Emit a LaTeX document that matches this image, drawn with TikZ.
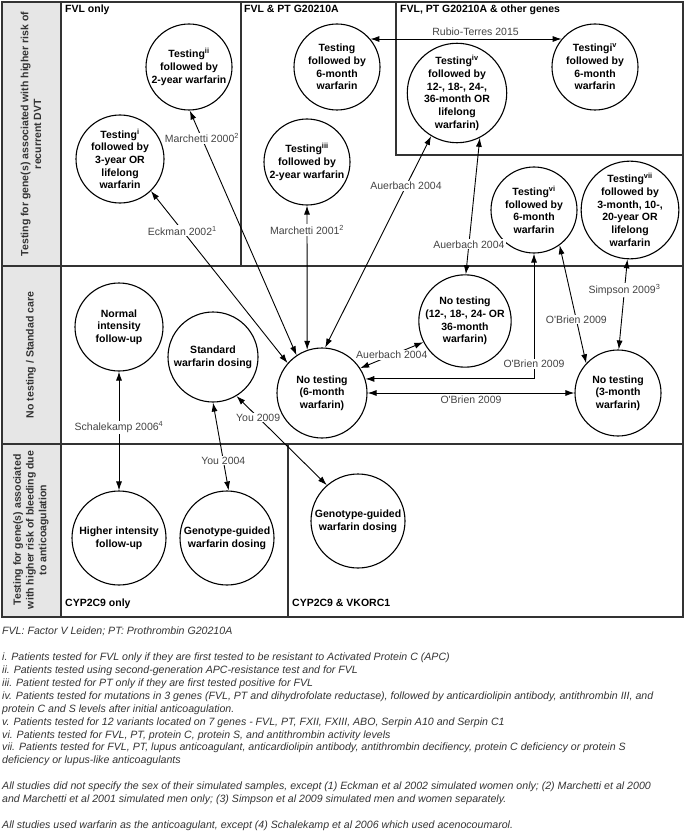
\documentclass[tikz,border=0pt]{standalone}
\usepackage{fontspec}
\setmainfont{Liberation Sans}
\usetikzlibrary{arrows.meta}
\definecolor{linegray}{HTML}{333333}
\definecolor{sidegray}{HTML}{E6E6E6}
\definecolor{labelgray}{HTML}{444444}

\begin{document}
\begin{tikzpicture}[x=1pt, y=-1pt,
    strategy/.style={circle, draw, line width=1.1pt, inner sep=0pt, minimum size=#1, align=center,
      font=\fontsize{10.5}{12.7}\selectfont\bfseries},
    strategy/.default=86pt,
    study/.style={font=\fontsize{10.5}{12.7}\selectfont, text=labelgray, inner sep=1pt},
    onlink/.style={study, fill=white},
    link/.style={line width=0.9pt, {Latex[length=9pt,width=6pt]}-{Latex[length=9pt,width=6pt]}},
    panel/.style={font=\fontsize{10.5}{12.7}\selectfont\bfseries, inner sep=0pt, anchor=base west},
    side/.style={font=\fontsize{10.5}{12.7}\selectfont\bfseries, text=linegray, rotate=90, align=center},
    frame/.style={line width=1.3pt, draw=linegray},
    notes/.style={font=\fontsize{10.6}{12.9}\selectfont\itshape, text=linegray, inner sep=0pt, align=left, anchor=north west}]
  \useasboundingbox (0,0) rectangle (685,837);

  \filldraw[frame, fill=sidegray] (2,2) rectangle (61,617);
  \draw[frame] (2,2) rectangle (683,617);
  \draw[frame] (2,266) -- (683,266);
  \draw[frame] (2,444) -- (683,444);
  \draw[frame] (241,2) -- (241,266);
  \draw[frame] (396,2) -- (396,155) -- (683,155);
  \draw[frame] (288,444) -- (288,617);

  \node[side] (rowtest) at (31,134) {Testing for gene(s) associated with higher risk of\\recurrent DVT};
  \node[side] (rowcare) at (31,355) {No testing / Standad care};
  \node[side] (rowbleed) at (31,530) {Testing for gene(s) associated\\with higher risk of bleeding due\\to anticoagulation};

  \node[panel] (fvl) at (65,13) {FVL only};
  \node[panel] (fvlpt) at (244,13) {FVL \& PT G20210A};
  \node[panel] (other) at (400,13) {FVL, PT G20210A \& other genes};
  \node[panel] (cyp) at (65,606) {CYP2C9 only};
  \node[panel] (vkorc) at (292,606) {CYP2C9 \& VKORC1};

  \node[strategy=88pt] (tA) at (120,159) {Testing\textsuperscript{i}\\followed by\\3-year OR\\lifelong\\warfarin};
  \node[strategy] (tB) at (189,67) {Testing\textsuperscript{ii}\\followed by\\2-year warfarin};
  \node[strategy] (tC) at (337,67) {Testing\\followed by\\6-month\\warfarin};
  \node[strategy] (tD) at (307,162) {Testing\textsuperscript{iii}\\followed by\\2-year warfarin};
  \node[strategy=94pt] (tE) at (457,93) {Testing\textsuperscript{iv}\\followed by\\12-, 18-, 24-,\\36-month OR\\lifelong\\warfarin)};
  \node[strategy] (tF) at (595,67) {Testingi\textsuperscript{v}\\followed by\\6-month\\warfarin};
  \node[strategy] (tG) at (534,210) {Testing\textsuperscript{vi}\\followed by\\6-month\\warfarin};
  \node[strategy] (tH) at (630,210) {Testing\textsuperscript{vii}\\followed by\\3-month, 10-,\\20-year OR\\lifelong\\warfarin};

  \node[strategy=90pt] (n12) at (465,321) {No testing\\(12-, 18-, 24- OR\\36-month\\warfarin)};
  \node[strategy=90pt] (n6) at (322,393) {No testing\\(6-month\\warfarin)};
  \node[strategy] (n3) at (618,393) {No testing\\(3-month\\warfarin)};
  \node[strategy=88pt] (normal) at (119,327) {Normal\\intensity\\follow-up};
  \node[strategy=90pt] (standard) at (213,357) {Standard\\warfarin dosing};

  \node[strategy=94pt] (higher) at (119,538) {Higher intensity\\follow-up};
  \node[strategy=94pt] (genoA) at (227,538) {Genotype-guided\\warfarin dosing};
  \node[strategy=94pt] (genoB) at (358,521) {Genotype-guided\\warfarin dosing};

  \draw[link] (tA.-46) -- node[onlink, pos=0.23] {Eckman 2002\textsuperscript{1}} (n6.139);
  \draw[link] (tB.-89) -- node[onlink, pos=0.114] {Marchetti 2000\textsuperscript{2}} (n6.124);
  \draw[link] (tD.south) -- node[onlink, pos=0.17] {Marchetti 2001\textsuperscript{2}} (n6.109.5);
  \draw[link] (tE.-121) -- node[onlink, pos=0.237] {Auerbach 2004} (n6.86);
  \draw[link] (tE.-63) -- node[onlink, pos=0.78] {Auerbach 2004} (n12.89);
  \draw[link] (n6.33) -- node[onlink] {Auerbach 2004} (n12.207);
  \draw[link] (tC.40) -- node[study, above=2pt, pos=0.55] {Rubio-Terres 2015} (tF.140);
  \draw[link] (tG.south) |- node[onlink, pos=0.44] {O\textquotesingle Brien 2009} (n6.18);
  \draw[link] (n6.east) -- node[study, below=1pt] {O\textquotesingle Brien 2009} (n3.west);
  \draw[link] (tG.-54) -- node[onlink, pos=0.63] {O\textquotesingle Brien 2009} (n3.137);
  \draw[link] (tH.-93) -- node[onlink, pos=0.34] {Simpson 2009\textsuperscript{3}} (n3.89);
  \draw[link] (normal.south) -- node[onlink, pos=0.47] {Schalekamp 2006\textsuperscript{4}} (higher.north);
  \draw[link] (standard.south) -- node[onlink, pos=0.66] {You 2004} (genoA.88);
  \draw[link] (standard.-59) -- node[onlink, pos=0.24] {You 2009} (genoB.131);

  \node[notes] (legend) at (2,627) {FVL: Factor V Leiden; PT: Prothrombin G20210A\\[12.9pt]
    i. Patients tested for FVL only if they are first tested to be resistant to Activated Protein C (APC)\\
    ii. Patients tested using second-generation APC-resistance test and for FVL\\
    iii. Patient tested for PT only if they are first tested positive for FVL\\
    iv. Patients tested for mutations in 3 genes (FVL, PT and dihydrofolate reductase), followed by anticardiolipin antibody, antithrombin III, and\\
    protein C and S levels after initial anticoagulation.\\
    v. Patients tested for 12 variants located on 7 genes - FVL, PT, FXII, FXIII, ABO, Serpin A10 and Serpin C1\\
    vi. Patients tested for FVL, PT, protein C, protein S, and antithrombin activity levels\\
    vii. Patients tested for FVL, PT, lupus anticoagulant, anticardiolipin antibody, antithrombin decifiency, protein C deficiency or protein S\\
    deficiency or lupus-like anticoagulants\\[12.9pt]
    All studies did not specify the sex of their simulated samples, except (1) Eckman et al 2002 simulated women only; (2) Marchetti et al 2000\\
    and Marchetti et al 2001 simulated men only; (3) Simpson et al 2009 simulated men and women separately.\\[12.9pt]
    All studies used warfarin as the anticoagulant, except (4) Schalekamp et al 2006 which used acenocoumarol.};
\end{tikzpicture}
\end{document}
